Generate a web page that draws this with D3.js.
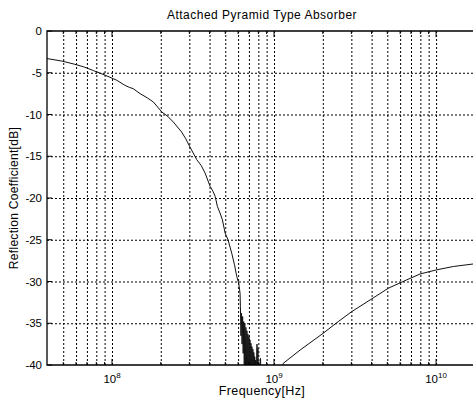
<!DOCTYPE html>
<html>
  <head>
    <meta charset="utf-8">
    <title>Attached Pyramid Type Absorber</title>
    <script src="https://d3js.org/d3.v7.min.js"></script>
    <style>
      body { margin: 0; background: #fff; }
      svg { display: block; font-family: "Liberation Sans", Arial, sans-serif; }
      .grid line { stroke: #000; stroke-width: 1; stroke-dasharray: 2,2; }
      .grid path { display: none; }
      .frame { fill: none; stroke: #000; stroke-width: 1.3; }
      .curve { fill: none; stroke: #111; stroke-width: 1; }
    </style>
  </head>
  <body>
    <svg id="chart" width="473" height="404"></svg>
    <script>
      // chart data
      const yTicks = [0, -5, -10, -15, -20, -25, -30, -35, -40];
      const xDecades = [8, 9, 10];

      // smooth roll-off below ~600 MHz
      const lowBandHz = [3.97e7, 4.9e7, 5.8e7, 6.7e7, 7.7e7, 9.1e7, 1.07e8, 1.2e8, 1.28e8, 1.35e8, 1.49e8, 1.65e8,
        1.8e8, 2.03e8, 2.2e8, 2.39e8, 2.69e8, 2.85e8, 3.03e8, 3.33e8, 3.55e8, 3.75e8, 4.03e8, 4.2e8, 4.33e8,
        4.47e8, 4.64e8, 4.8e8, 4.99e8, 5.2e8, 5.48e8, 5.7e8, 5.89e8, 6.05e8, 6.17e8];
      const lowBandDb = [-3.3, -3.6, -3.95, -4.3, -4.75, -5.3, -5.9, -6.5, -6.75, -6.9, -7.5, -8.0,
        -8.5, -9.7, -10.2, -10.9, -12.1, -12.9, -13.9, -15.4, -16.1, -17.0, -18.6, -19.2, -19.8,
        -21.0, -21.8, -22.6, -24.2, -25.0, -26.6, -28.0, -29.4, -30.2, -31.4];

      // noisy resonance region, 620–850 MHz
      const noiseHz = [6.2e8, 6.25e8, 6.3e8, 6.35e8, 6.4e8, 6.45e8, 6.5e8, 6.55e8, 6.6e8, 6.65e8, 6.7e8, 6.75e8,
        6.8e8, 6.85e8, 6.9e8, 6.95e8, 7.0e8, 7.05e8, 7.1e8, 7.15e8, 7.2e8, 7.25e8, 7.3e8, 7.35e8, 7.4e8,
        7.45e8, 7.5e8, 7.55e8, 7.6e8, 7.65e8, 7.7e8, 7.75e8, 7.85e8, 7.9e8, 7.95e8, 8.0e8, 8.1e8, 8.25e8,
        8.35e8, 8.5e8];
      const noiseDb = [-33.0, -36.5, -33.8, -37.5, -34.2, -38.6, -34.8, -40.5, -35.0, -41.8, -35.5, -42.2,
        -35.9, -41.5, -36.3, -42.8, -36.6, -41.9, -37.0, -42.4, -37.4, -41.6, -37.8, -42.9, -38.1,
        -41.7, -38.5, -42.3, -39.0, -41.4, -39.4, -42.6, -37.5, -42.0, -38.0, -41.5, -40.5, -39.2,
        -42.5, -41.0];

      // recovery above 1 GHz
      const highBandHz = [9.0e8, 9.8e8, 1.06e9, 1.14e9, 1.45e9, 2.01e9, 2.49e9, 3.02e9, 3.92e9, 5.08e9,
        6.6e9, 7.96e9, 1.01e10, 1.28e10, 1.7e10];
      const highBandDb = [-44.0, -45.0, -42.5, -39.8, -38.2, -36.2, -34.8, -33.6, -32.2, -30.8,
        -29.8, -29.1, -28.6, -28.2, -27.9];

      const freqHz = lowBandHz.concat(noiseHz, highBandHz);
      const reflDb = lowBandDb.concat(noiseDb, highBandDb);

      // layout
      const svg = d3.select("#chart");
      const margin = { top: 31, right: 0, bottom: 39, left: 47 };
      const width = 473, height = 404;
      const plotW = width - margin.left - margin.right;
      const plotH = height - margin.bottom - margin.top;

      const x = d3.scaleLog()
        .domain([3.97e7, 1.69e10])
        .range([margin.left, width - margin.right]);
      const y = d3.scaleLinear()
        .domain([-40, 0])
        .range([height - margin.bottom, margin.top]);

      // every 1..9 multiple in each decade that falls in the domain
      const gridHz = [];
      [7, 8, 9, 10].forEach(function(e) {
        for (let m = 1; m <= 9; m++) {
          const v = m * Math.pow(10, e);
          if (v > x.domain()[0] * 1.02 && v < x.domain()[1]) gridHz.push(v);
        }
      });
      const majorHz = xDecades.map(function(e) { return Math.pow(10, e); });

      svg.append("rect").attr("width", width).attr("height", height).attr("fill", "#fff");

      // dotted grid
      svg.append("g")
        .attr("class", "grid")
        .attr("transform", "translate(0," + (height - margin.bottom) + ")")
        .call(d3.axisBottom(x).tickValues(gridHz).tickSize(-plotH).tickFormat(""));
      svg.append("g")
        .attr("class", "grid")
        .attr("transform", "translate(" + margin.left + ",0)")
        .call(d3.axisLeft(y).tickValues(yTicks.slice(1, -1)).tickSize(-plotW).tickFormat(""));

      // the curve, clipped to the plot box
      svg.append("clipPath").attr("id", "clip")
        .append("rect")
        .attr("x", margin.left).attr("y", margin.top)
        .attr("width", plotW).attr("height", plotH);
      const line = d3.line()
        .x(function(d, i) { return x(freqHz[i]); })
        .y(function(d) { return y(d); });
      svg.append("path")
        .datum(reflDb)
        .attr("class", "curve")
        .attr("clip-path", "url(#clip)")
        .attr("d", line);

      // inward tick marks on bottom and top
      const tickG = svg.append("g").attr("stroke", "#000").attr("stroke-width", 1);
      gridHz.forEach(function(v) {
        const len = majorHz.indexOf(v) >= 0 ? 6 : 3;
        tickG.append("line")
          .attr("x1", x(v)).attr("x2", x(v))
          .attr("y1", y(-40)).attr("y2", y(-40) - len);
        tickG.append("line")
          .attr("x1", x(v)).attr("x2", x(v))
          .attr("y1", y(0)).attr("y2", y(0) + len);
      });
      yTicks.forEach(function(v) {
        tickG.append("line")
          .attr("x1", margin.left).attr("x2", margin.left + 5)
          .attr("y1", y(v)).attr("y2", y(v));
      });

      // frame (left, top, bottom)
      svg.append("path")
        .attr("class", "frame")
        .attr("d", "M" + (width - margin.right) + "," + margin.top +
          "H" + margin.left + "V" + (height - margin.bottom) + "H" + (width - margin.right));

      // y tick labels
      svg.append("g")
        .selectAll("text")
        .data(yTicks)
        .enter().append("text")
          .attr("x", margin.left - 5)
          .attr("y", function(d) { return y(d); })
          .attr("dy", "0.35em")
          .attr("text-anchor", "end")
          .attr("font-size", 11.5)
          .text(function(d) { return d; });

      // x tick labels 10^n
      const xl = svg.append("g")
        .selectAll("text")
        .data(xDecades)
        .enter().append("text")
          .attr("x", function(d) { return x(Math.pow(10, d)); })
          .attr("y", height - margin.bottom + 18)
          .attr("text-anchor", "middle")
          .attr("font-size", 11.5);
      xl.append("tspan").text("10");
      xl.append("tspan")
        .attr("font-size", 8)
        .attr("dy", -5)
        .text(function(d) { return d; });

      // titles
      svg.append("text")
        .attr("x", 262).attr("y", 19)
        .attr("text-anchor", "middle")
        .attr("font-size", 12)
        .attr("letter-spacing", 0.5)
        .text("Attached Pyramid Type Absorber");
      svg.append("text")
        .attr("x", 262).attr("y", 395)
        .attr("text-anchor", "middle")
        .attr("font-size", 12.5)
        .attr("letter-spacing", 0.4)
        .text("Frequency[Hz]");
      svg.append("text")
        .attr("transform", "translate(18,198) rotate(-90)")
        .attr("text-anchor", "middle")
        .attr("font-size", 12)
        .attr("letter-spacing", 0.3)
        .text("Reflection Coefficient[dB]");
    </script>
  </body>
</html>
